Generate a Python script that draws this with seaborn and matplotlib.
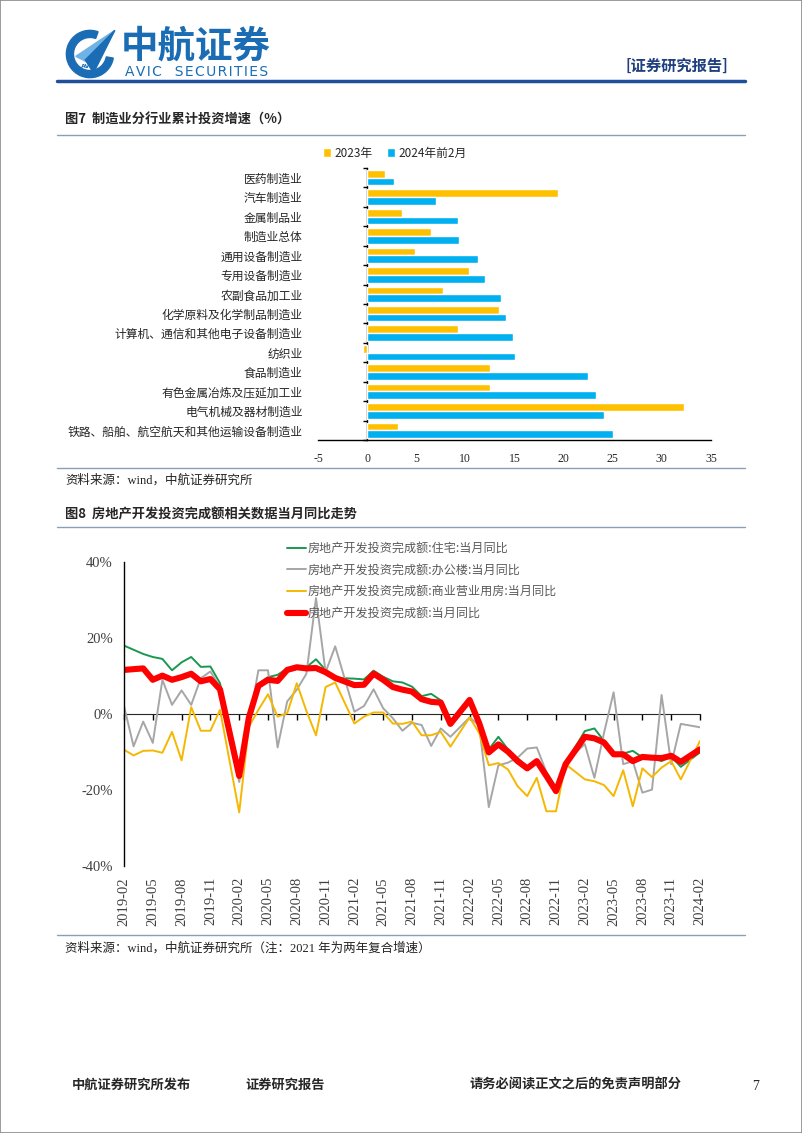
import numpy as np
import pandas as pd
import seaborn as sns
import matplotlib.pyplot as plt
from matplotlib.lines import Line2D
from matplotlib.patches import Wedge, Polygon, Rectangle
from matplotlib.ticker import FuncFormatter

W, H = 802, 1133

# ---- figure 7: manufacturing investment by industry (%)
industries = ['医药制造业', '汽车制造业', '金属制品业', '制造业总体', '通用设备制造业',
              '专用设备制造业', '农副食品加工业', '化学原料及化学制品制造业',
              '计算机、通信和其他电子设备制造业', '纺织业', '食品制造业',
              '有色金属冶炼及压延加工业', '电气机械及器材制造业',
              '铁路、船舶、航空航天和其他运输设备制造业']
inv_2023 = [1.8, 19.4, 3.5, 6.5, 4.9, 10.4, 7.7, 13.4, 9.3, -0.4, 12.5, 12.5, 32.3, 3.1]
inv_2024 = [2.7, 7.0, 9.3, 9.4, 11.3, 12.0, 13.6, 14.1, 14.8, 15.0, 22.5, 23.3, 24.1, 25.0]
period_names = ['2023年', '2024年前2月']

# ---- figure 8: real estate investment, monthly yoy (%)
months = (['2019-%02d' % m for m in range(2, 13)] + ['2020-%02d' % m for m in range(2, 13)] +
          ['2021-%02d' % m for m in range(2, 13)] + ['2022-%02d' % m for m in range(2, 13)] +
          ['2023-%02d' % m for m in range(2, 13)] + ['2024-02'])
resid = [18.0, 16.9, 15.8, 15.0, 14.5, 11.5, 13.6, 15.0, 12.4, 12.5, 8.1,
         -16.0, 0.5, 7.9, 9.7, 10.3, 12.0, 12.6, 12.3, 14.4, 11.6, 9.5,
         9.3, 9.1, 11.4, 9.8, 8.6, 8.3, 7.2, 4.7, 5.3, 3.6, -2.5,
         3.6, -2.2, -9.3, -6.0, -9.3, -11.6, -14.0, -12.3, -16.0, -19.6, -13.0,
         -4.5, -3.8, -7.1, -10.8, -10.4, -9.7, -11.4, -11.7, -12.4, -11.2, -13.9,
         -10.1]
office = [2.1, -8.5, -2.0, -7.6, 9.0, 2.4, 6.2, 2.4, 9.4, 11.2, 7.0,
          -17.9, -2.5, 11.5, 11.5, -8.8, 3.3, 6.4, 10.6, 30.5, 11.0, 17.8,
          0.6, 2.1, 6.5, 1.5, -1.1, -4.4, -2.3, -2.9, -8.4, -3.8, -6.0,
          -0.9, -3.0, -24.5, -13.5, -12.8, -11.5, -9.1, -8.8, -15.3, -19.3, -12.7,
          -7.9, -16.8, -5.0, 5.7, -13.2, -12.4, -20.7, -19.9, 5.0, -13.2, -2.6,
          -3.5]
commercial = [-9.4, -10.9, -9.7, -9.6, -10.2, -4.7, -12.2, 1.8, -4.4, -4.4, 1.1,
              -25.9, -3.4, 1.1, 5.2, -0.7, 0.2, 8.1, 0.8, -5.6, 7.1, 8.3,
              -2.5, -0.7, 0.4, 0.4, -2.5, -2.6, -2.0, -5.6, -5.6, -4.7, -8.6,
              -0.9, -5.0, -13.5, -12.9, -14.6, -19.0, -21.6, -16.8, -25.6, -25.6, -13.2,
              -17.2, -17.7, -18.7, -21.6, -14.8, -24.3, -14.3, -16.6, -14.1, -12.4, -17.2,
              -7.1]
total = [11.6, 11.8, 12.0, 9.0, 10.1, 9.0, 9.7, 10.6, 8.6, 9.2, 6.5,
         -16.3, -1.0, 7.4, 9.0, 8.7, 11.6, 12.3, 12.0, 12.1, 11.0, 9.5,
         7.6, 7.7, 10.6, 9.0, 7.1, 6.4, 5.9, 3.9, 3.2, 3.0, -2.6,
         3.7, -2.4, -10.1, -8.0, -9.9, -12.4, -14.3, -12.4, -16.3, -20.3, -13.2,
         -6.0, -6.4, -7.5, -10.6, -10.6, -12.4, -11.3, -11.5, -11.6, -11.0, -12.6,
         -9.3]
series_names = ['房地产开发投资完成额:住宅:当月同比', '房地产开发投资完成额:办公楼:当月同比',
                '房地产开发投资完成额:商业营业用房:当月同比', '房地产开发投资完成额:当月同比']
series_colors = ['#1a9850', '#a6a6a6', '#f5b800', '#ff0000']
series_widths = [1.4, 1.4, 1.4, 4.4]

sns.set_style('white')
plt.rcParams['font.family'] = ['Liberation Serif', 'Noto Sans CJK SC', 'DejaVu Sans']
plt.rcParams['axes.unicode_minus'] = False
CJK = ['Noto Sans CJK SC', 'DejaVu Sans']


def fx(px):
    return px / W


def fy(py):
    return 1 - py / H


fig = plt.figure(figsize=(W / 100, H / 100), dpi=100)
fig.patches.append(Rectangle((0, 0), 1, 1, transform=fig.transFigure, fill=False,
                             edgecolor='#8a8a8a', lw=1.2))

# header / logo
logo = fig.add_axes([fx(62), fy(80), fx(56), 52 / H])
logo.set_xlim(-1.1, 1.1)
logo.set_ylim(-1.1, 1.1)
logo.set_aspect('equal')
logo.axis('off')
logo.add_patch(Wedge((0, 0), 1.0, 70, 350, width=0.3, color='#1a6db5'))
logo.add_patch(Polygon([[-0.6, -0.1], [1.05, 1.0], [0.1, -0.45]], color='#6fb3e6'))
logo.add_patch(Polygon([[-0.2, -0.25], [1.05, 1.0], [0.15, -0.8]], color='#1a6db5'))
logo.text(-0.05, -0.55, 'AVIC', fontsize=4.5, color='#1a6db5', ha='center', va='center',
          family='DejaVu Sans', fontweight='bold')

fig.text(fx(121), fy(46), '中航证券', fontsize=27, fontweight='bold', color='#1a6db5',
         family=CJK, va='center')
fig.text(fx(125), fy(72), '\u200a'.join('AVIC  SECURITIES'), fontsize=10, color='#1a6db5',
         family='DejaVu Sans', va='center')
fig.text(fx(728), fy(66), '[证券研究报告]', fontsize=11, fontweight='bold', color='#1f3f7f',
         family=CJK, va='center', ha='right')
fig.add_artist(Line2D([fx(57), fx(745)], [fy(81), fy(81)], color='#1f4e9c', lw=2.5))

rule = '#8c9fb8'
for y in [135, 468, 527, 935]:
    fig.add_artist(Line2D([fx(57), fx(745)], [fy(y), fy(y)], color=rule, lw=1))

fig.text(fx(65), fy(120), '图7  制造业分行业累计投资增速（%）', fontsize=9.5, fontweight='bold',
         family=CJK, va='center')
fig.text(fx(65), fy(480), '资料来源：wind，中航证券研究所', fontsize=9, va='center', color='#222222')
fig.text(fx(65), fy(514), '图8  房地产开发投资完成额相关数据当月同比走势', fontsize=9.5,
         fontweight='bold', family=CJK, va='center')
fig.text(fx(65), fy(948), '资料来源：wind，中航证券研究所（注：2021 年为两年复合增速）', fontsize=9,
         va='center', color='#222222')

# ---- bar chart
n = len(industries)
bar_df = pd.DataFrame({'industry': industries * 2,
                       'value': inv_2023 + inv_2024,
                       'period': [period_names[0]] * n + [period_names[1]] * n})
ax1 = fig.add_axes([fx(318), fy(440), fx(711) - fx(318), (440 - 168) / H])
sns.barplot(data=bar_df, y='industry', x='value', hue='period', orient='h', ax=ax1,
            palette={period_names[0]: '#ffc000', period_names[1]: '#00b0f0'},
            width=0.8, saturation=1)
ax1.set_xlim(-5, 35)
ax1.set_xticks(range(-5, 36, 5))
ax1.set_xlabel('')
ax1.set_ylabel('')
for s in ['top', 'right', 'left']:
    ax1.spines[s].set_visible(False)
ax1.spines['bottom'].set_color('black')
ax1.spines['bottom'].set_linewidth(1)
ax1.tick_params(axis='x', direction='in', length=4, width=1, labelsize=8.5, pad=9, color='black')
ax1.tick_params(axis='y', length=0, labelsize=8.5, pad=11)
for lab in ax1.get_yticklabels():
    lab.set_family(CJK)
sec = ax1.secondary_yaxis(0.125)
sec.set_yticks([i - 0.5 for i in range(n + 1)])
sec.set_yticklabels([])
sec.tick_params(direction='out', length=3, width=1, color='black')
sec.spines['left'].set_color('black')
sec.spines['left'].set_linewidth(1)
ax1.legend(loc='center', bbox_to_anchor=(fx(395), fy(153)), bbox_transform=fig.transFigure,
           ncol=2, frameon=False, handlelength=0.7, handleheight=0.7,
           handletextpad=0.3, columnspacing=1.2, prop={'family': CJK, 'size': 8.5})

# ---- line chart
dates = pd.to_datetime(months)
pos = (dates.year - 2019) * 12 + dates.month - 2
ax2 = fig.add_axes([fx(124), fy(866), fx(700) - fx(124), (866 - 562) / H])
for vals, name, c, w in zip([resid, office, commercial, total], series_names,
                            series_colors, series_widths):
    sns.lineplot(x=pos, y=vals, color=c, lw=w, label=name, ax=ax2)
ax2.set_xlim(0, 60)
ax2.set_ylim(-40, 40)
ax2.set_xlabel('')
ax2.set_ylabel('')
ax2.set_yticks([-40, -20, 0, 20, 40])
ax2.yaxis.set_major_formatter(FuncFormatter(lambda v, p: '%d%%' % v))
tick_dates = pd.date_range('2019-02-01', '2024-02-01', freq='3MS')
tick_pos = (tick_dates.year - 2019) * 12 + tick_dates.month - 2
ax2.set_xticks(tick_pos)
ax2.set_xticklabels(tick_dates.strftime('%Y-%m'), rotation=90)
for s in ['top', 'right', 'bottom']:
    ax2.spines[s].set_visible(False)
ax2.spines['left'].set_color('black')
ax2.spines['left'].set_linewidth(1)
ax2.tick_params(axis='y', direction='in', length=4, width=1, labelsize=10.5, pad=8,
                labelcolor='#404040', color='black')
ax2.tick_params(axis='x', length=0, labelsize=10.5, pad=8, labelcolor='#404040')
sec2 = ax2.secondary_xaxis(0.5)
sec2.set_xticks(tick_pos)
sec2.set_xticklabels([])
sec2.tick_params(direction='in', length=4, width=1, color='black')
sec2.spines['bottom'].set_color('black')
sec2.spines['bottom'].set_linewidth(1)
ax2.legend(loc='upper left', bbox_to_anchor=(fx(276), fy(531)), bbox_transform=fig.transFigure,
           frameon=False, handlelength=1.6, handletextpad=0.15, labelspacing=0.72,
           labelcolor='#595959', prop={'family': CJK, 'size': 8.7})

# footer
fig.text(fx(72), fy(1085), '中航证券研究所发布', fontsize=9.5, fontweight='bold', family=CJK, va='center')
fig.text(fx(245), fy(1085), '证券研究报告', fontsize=9.5, fontweight='bold', family=CJK, va='center')
fig.text(fx(470), fy(1085), '请务必阅读正文之后的免责声明部分', fontsize=9.5, fontweight='bold',
         family=CJK, va='center')
fig.text(fx(752), fy(1087), '7', fontsize=10, va='center')

fig.savefig('out.png', dpi=100)
